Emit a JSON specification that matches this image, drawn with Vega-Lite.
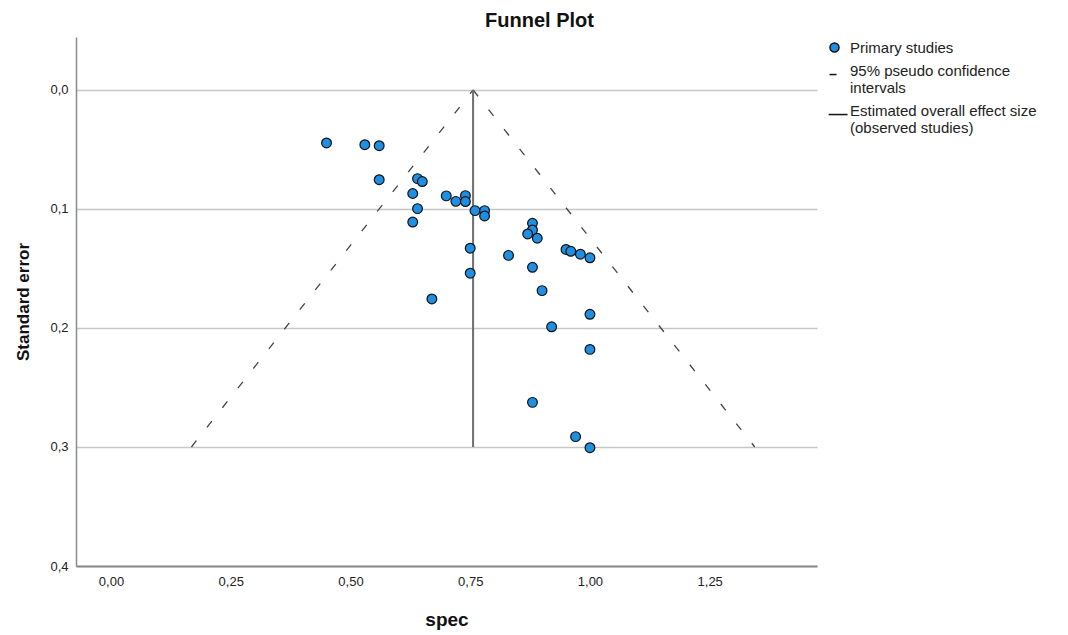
{
  "$schema": "https://vega.github.io/schema/vega-lite/v6.json",
  "width": 741,
  "height": 529,
  "autosize": {"type": "none"},
  "padding": {"left": 76, "top": 37, "right": 251, "bottom": 69},
  "background": "white",
  "title": {"text": "Funnel Plot", "anchor": "middle", "frame": "bounds", "font": "Liberation Sans", "fontSize": 20, "fontWeight": "bold", "color": "#111", "offset": 6, "dx": 12},
  "datasets": {
    "studies": [
      {"spec": 0.45, "se": 0.0445, "series": "Primary studies"},
      {"spec": 0.53, "se": 0.046, "series": "Primary studies"},
      {"spec": 0.56, "se": 0.0468, "series": "Primary studies"},
      {"spec": 0.56, "se": 0.0754, "series": "Primary studies"},
      {"spec": 0.64, "se": 0.0745, "series": "Primary studies"},
      {"spec": 0.65, "se": 0.077, "series": "Primary studies"},
      {"spec": 0.63, "se": 0.087, "series": "Primary studies"},
      {"spec": 0.70, "se": 0.089, "series": "Primary studies"},
      {"spec": 0.72, "se": 0.0936, "series": "Primary studies"},
      {"spec": 0.74, "se": 0.0888, "series": "Primary studies"},
      {"spec": 0.74, "se": 0.0938, "series": "Primary studies"},
      {"spec": 0.64, "se": 0.0997, "series": "Primary studies"},
      {"spec": 0.76, "se": 0.1014, "series": "Primary studies"},
      {"spec": 0.78, "se": 0.1014, "series": "Primary studies"},
      {"spec": 0.78, "se": 0.1059, "series": "Primary studies"},
      {"spec": 0.63, "se": 0.111, "series": "Primary studies"},
      {"spec": 0.75, "se": 0.133, "series": "Primary studies"},
      {"spec": 0.83, "se": 0.139, "series": "Primary studies"},
      {"spec": 0.75, "se": 0.154, "series": "Primary studies"},
      {"spec": 0.67, "se": 0.1756, "series": "Primary studies"},
      {"spec": 0.88, "se": 0.112, "series": "Primary studies"},
      {"spec": 0.88, "se": 0.1176, "series": "Primary studies"},
      {"spec": 0.87, "se": 0.121, "series": "Primary studies"},
      {"spec": 0.89, "se": 0.1246, "series": "Primary studies"},
      {"spec": 0.95, "se": 0.134, "series": "Primary studies"},
      {"spec": 0.96, "se": 0.1356, "series": "Primary studies"},
      {"spec": 0.98, "se": 0.138, "series": "Primary studies"},
      {"spec": 1.00, "se": 0.141, "series": "Primary studies"},
      {"spec": 0.88, "se": 0.149, "series": "Primary studies"},
      {"spec": 0.90, "se": 0.1686, "series": "Primary studies"},
      {"spec": 1.00, "se": 0.1885, "series": "Primary studies"},
      {"spec": 0.92, "se": 0.199, "series": "Primary studies"},
      {"spec": 1.00, "se": 0.218, "series": "Primary studies"},
      {"spec": 0.88, "se": 0.2625, "series": "Primary studies"},
      {"spec": 0.97, "se": 0.2913, "series": "Primary studies"},
      {"spec": 1.00, "se": 0.3006, "series": "Primary studies"}
    ],
    "funnel": [
      {"side": "left", "spec": 0.168, "se": 0.3},
      {"side": "left", "spec": 0.756, "se": 0.0},
      {"side": "right", "spec": 0.756, "se": 0.0},
      {"side": "right", "spec": 1.344, "se": 0.3}
    ],
    "effect": [
      {"spec": 0.756, "se": 0.0, "se2": 0.3}
    ]
  },
  "encoding": {
    "x": {
      "field": "spec", "type": "quantitative",
      "scale": {"domain": [-0.073, 1.474], "nice": false, "zero": false},
      "axis": {
        "title": "spec", "values": [0, 0.25, 0.5, 0.75, 1, 1.25],
        "labelExpr": "replace(format(datum.value, '.2f'), '.', ',')",
        "grid": false, "ticks": false, "labelPadding": 9, "titlePadding": 22,
        "titleFontSize": 19,
        "domainColor": "#8a8a8a", "domainWidth": 2
      }
    },
    "y": {
      "field": "se", "type": "quantitative",
      "scale": {"domain": [-0.0445, 0.4], "reverse": true, "nice": false, "zero": false},
      "axis": {
        "title": "Standard error", "values": [0, 0.1, 0.2, 0.3, 0.4],
        "labelExpr": "replace(format(datum.value, '.1f'), '.', ',')",
        "grid": true, "gridColor": "#c6c6c6", "gridWidth": 1.5,
        "ticks": false, "labelPadding": 8, "titlePadding": 17,
        "domainColor": "#8a8a8a", "domainWidth": 1.5
      }
    }
  },
  "layer": [
    {
      "data": {"name": "funnel"},
      "mark": {"type": "line", "color": "#444", "strokeWidth": 1.3, "strokeDash": [8, 17]},
      "encoding": {"detail": {"field": "side"}}
    },
    {
      "data": {"name": "effect"},
      "mark": {"type": "rule", "color": "#6e6e6e", "strokeWidth": 2},
      "encoding": {"y2": {"field": "se2"}}
    },
    {
      "data": {"name": "studies"},
      "mark": {"type": "point", "filled": true, "size": 95, "opacity": 1, "stroke": "#111", "strokeWidth": 1.2},
      "encoding": {
        "color": {
          "field": "series", "type": "nominal",
          "scale": {
            "domain": ["Primary studies", "95% pseudo confidence|intervals", "Estimated overall effect size|(observed studies)"],
            "range": ["#1e8fe3", "#222222", "#222222"]
          },
          "legend": {
            "title": null,
            "labelExpr": "split(datum.label, '|')",
            "encode": {"symbols": {"update": {"stroke": {"value": "#111"}, "strokeWidth": {"value": 1.1}}}}
          }
        },
        "shape": {
          "field": "series", "type": "nominal",
          "scale": {
            "domain": ["Primary studies", "95% pseudo confidence|intervals", "Estimated overall effect size|(observed studies)"],
            "range": ["circle", "M-1.1,0.9L0.45,0.9", "M-1.3,0.9L2.9,0.9"]
          },
          "legend": null
        }
      }
    }
  ],
  "config": {
    "view": {"stroke": null},
    "font": "Liberation Sans",
    "axis": {
      "labelFont": "Liberation Sans", "labelFontSize": 13, "labelColor": "#222",
      "titleFont": "Liberation Sans", "titleFontSize": 17, "titleFontWeight": "bold", "titleColor": "#111"
    },
    "legend": {
      "orient": "right", "offset": 7, "padding": 3,
      "labelFont": "Liberation Sans", "labelFontSize": 15, "labelColor": "#222", "labelLimit": 400,
      "symbolSize": 81, "labelOffset": 8, "rowPadding": 7
    }
  }
}
